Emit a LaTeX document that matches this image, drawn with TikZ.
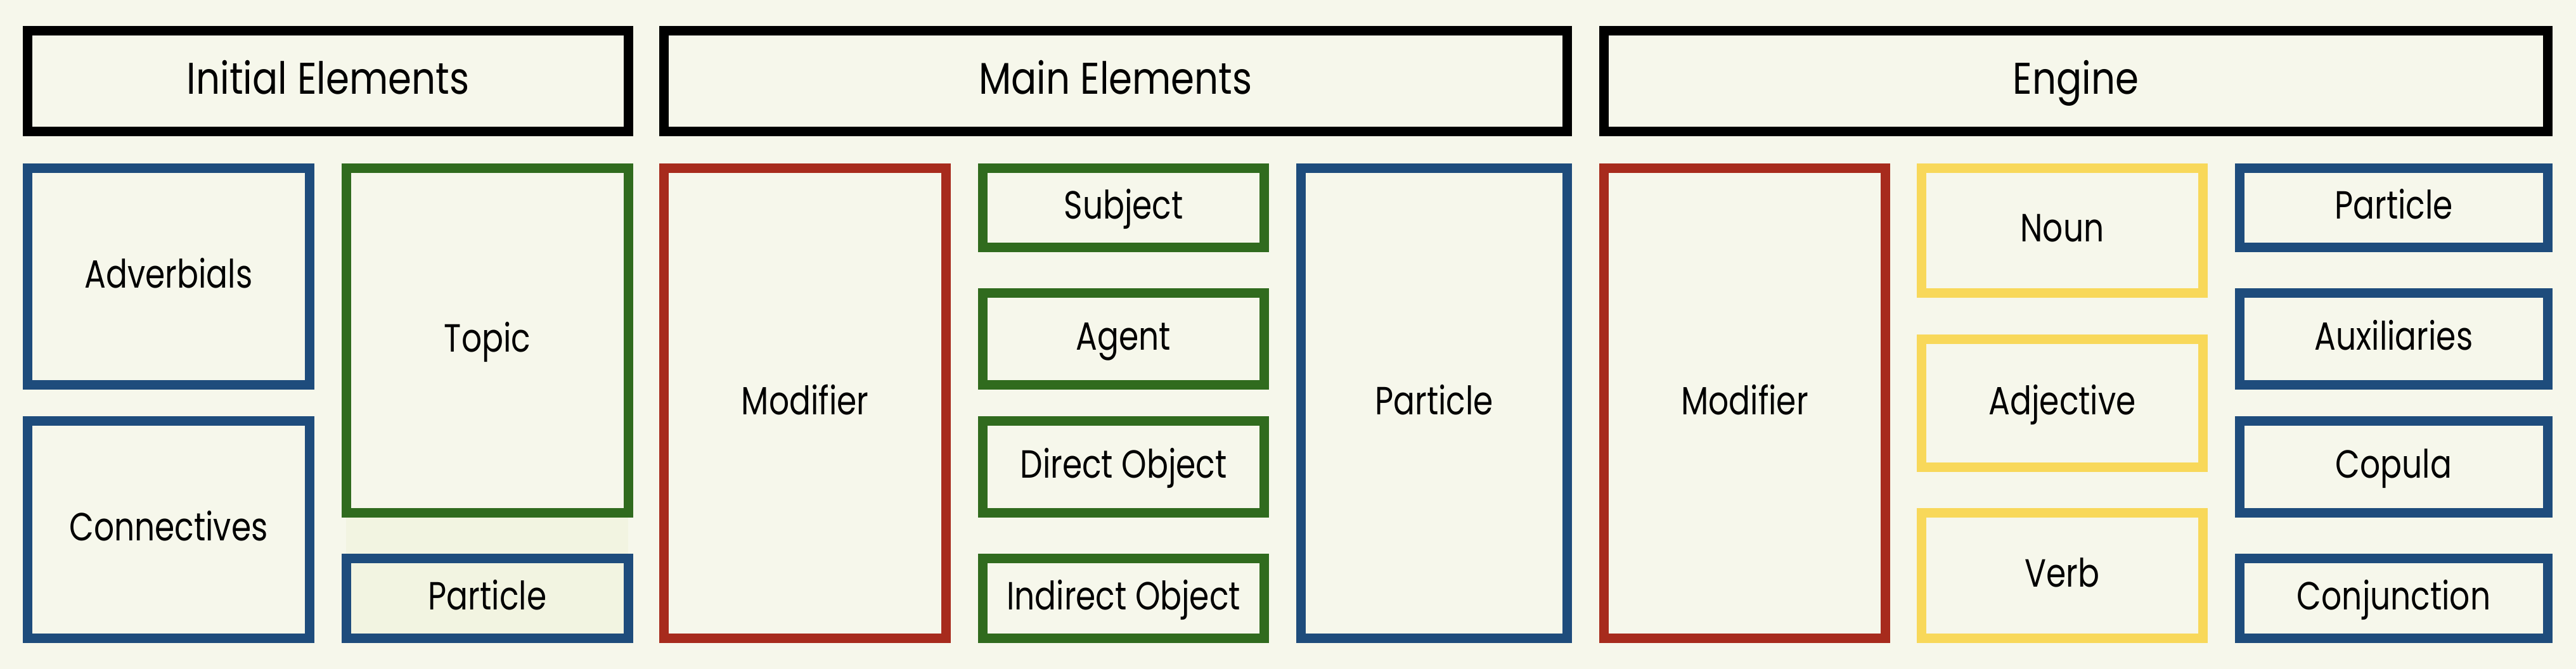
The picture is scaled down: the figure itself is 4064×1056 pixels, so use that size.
\documentclass[tikz,border=0pt]{standalone}
\usepackage{fontspec}
\setmainfont{Poppins}[FakeStretch=0.85]
\newfontfamily\bodyfont{Poppins}[FakeStretch=0.81]
\usetikzlibrary{fit}
\definecolor{bg}{HTML}{F6F7EB}
\definecolor{pfill}{HTML}{F2F4E1}
\definecolor{cblue}{HTML}{1E4C7C}
\definecolor{cgreen}{HTML}{306B1E}
\definecolor{cred}{HTML}{A72B1D}
\definecolor{cyellow}{HTML}{F8D85A}
\tikzset{
  box/.style={draw, line width=3.75pt, inner sep=0pt, fill=bg},
  headbox/.style={box, draw=black},
  bluebox/.style={box, draw=cblue},
  greenbox/.style={box, draw=cgreen},
  redbox/.style={box, draw=cred},
  yellowbox/.style={box, draw=cyellow},
  lbl/.style={anchor=base, inner sep=0pt, yshift=-4.5pt, text=black, font=\bodyfont\fontsize{15.5}{18}\selectfont},
  hlbl/.style={anchor=base, inner sep=0pt, yshift=-5.1pt, text=black, font=\fontsize{17.5}{20}\selectfont},
}
\begin{document}
\begin{tikzpicture}[x=0.25pt,y=-0.25pt]
\fill[bg] (0,0) rectangle (4064,1056);
\useasboundingbox (0,0) rectangle (4064,1056);
% headers
\node[headbox, fit={(43.5,48.5)(991.5,207.5)}] (hinit) {};
\node[headbox, fit={(1047.5,48.5)(2472.5,207.5)}] (hmain) {};
\node[headbox, fit={(2530.5,48.5)(4019.5,207.5)}] (heng) {};
\node[hlbl] (hinit-t) at (hinit.center) {Initial Elements};
\node[hlbl] (hmain-t) at (hmain.center) {Main Elements};
\node[hlbl] (heng-t) at (heng.center) {Engine};
% initial elements
\node[bluebox, fit={(43.5,265.5)(488.5,607.5)}] (adv) {};
\node[bluebox, fit={(43.5,664.5)(488.5,1007.5)}] (conn) {};
\fill[pfill] (546,817) rectangle (991,1008);
\node[greenbox, fit={(546.5,265.5)(991.5,809.5)}] (topic) {};
\node[bluebox, fill=pfill, fit={(546.5,881.5)(991.5,1007.5)}] (part1) {};
% main elements
\node[redbox, fit={(1047.5,265.5)(1492.5,1007.5)}] (mod1) {};
\node[greenbox, fit={(1550.5,265.5)(1994.5,390.5)}] (subj) {};
\node[greenbox, fit={(1550.5,462.5)(1994.5,607.5)}] (agent) {};
\node[greenbox, fit={(1550.5,664.5)(1994.5,809.5)}] (dobj) {};
\node[greenbox, fit={(1550.5,881.5)(1994.5,1007.5)}] (iobj) {};
\node[bluebox, fit={(2052.5,265.5)(2472.5,1007.5)}] (part2) {};
% engine
\node[redbox, fit={(2530.5,265.5)(2974.5,1007.5)}] (mod2) {};
\node[yellowbox, fit={(3031.5,265.5)(3475.5,462.5)}] (noun) {};
\node[yellowbox, fit={(3031.5,535.5)(3475.5,737.5)}] (adj) {};
\node[yellowbox, fit={(3031.5,809.5)(3475.5,1007.5)}] (verb) {};
\node[bluebox, fit={(3533.5,265.5)(4019.5,390.5)}] (part3) {};
\node[bluebox, fit={(3533.5,462.5)(4019.5,607.5)}] (aux) {};
\node[bluebox, fit={(3533.5,664.5)(4019.5,809.5)}] (cop) {};
\node[bluebox, fit={(3533.5,881.5)(4019.5,1007.5)}] (conj) {};
% labels
\node[lbl] (adv-t) at (adv.center) {Adverbials};
\node[lbl] (conn-t) at (conn.center) {Connectives};
\node[lbl] (topic-t) at (topic.center) {Topic};
\node[lbl] (part1-t) at (part1.center) {Particle};
\node[lbl] (mod1-t) at (mod1.center) {Modifier};
\node[lbl] (subj-t) at (subj.center) {Subject};
\node[lbl] (agent-t) at (agent.center) {Agent};
\node[lbl] (dobj-t) at (dobj.center) {Direct Object};
\node[lbl] (iobj-t) at (iobj.center) {Indirect Object};
\node[lbl] (part2-t) at (part2.center) {Particle};
\node[lbl] (mod2-t) at (mod2.center) {Modifier};
\node[lbl] (noun-t) at (noun.center) {Noun};
\node[lbl] (adj-t) at (adj.center) {Adjective};
\node[lbl] (verb-t) at (verb.center) {Verb};
\node[lbl] (part3-t) at (part3.center) {Particle};
\node[lbl] (aux-t) at (aux.center) {Auxiliaries};
\node[lbl] (cop-t) at (cop.center) {Copula};
\node[lbl] (conj-t) at (conj.center) {Conjunction};
\end{tikzpicture}
\end{document}
